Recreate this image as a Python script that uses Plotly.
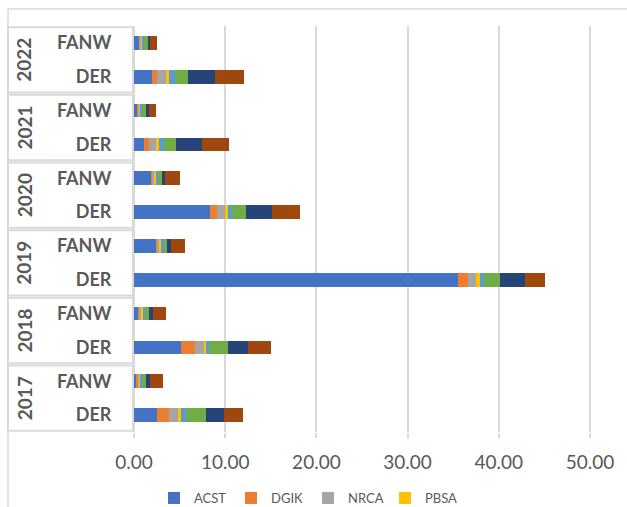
import plotly.graph_objects as go

# Category rows, listed bottom-to-top on the axis
years = ["2017", "2017", "2018", "2018", "2019", "2019",
         "2020", "2020", "2021", "2021", "2022", "2022"]
kinds = ["DER", "FANW", "DER", "FANW", "DER", "FANW",
         "DER", "FANW", "DER", "FANW", "DER", "FANW"]

series_names = ["ACST", "DGIK", "NRCA", "PBSA", "Series 5", "Series 6", "Series 7", "Series 8"]
series_colors = ["#4472C4", "#ED7D31", "#A5A5A5", "#FFC000",
                 "#5B9BD5", "#70AD47", "#264478", "#9E480E"]

acst     = [2.56, 0.22, 5.16, 0.44, 35.50, 2.45, 8.35, 1.87, 1.10, 0.37, 2.01, 0.55]
dgik     = [1.32, 0.22, 1.58, 0.18, 1.10, 0.18, 0.70, 0.18, 0.55, 0.15, 0.51, 0.10]
nrca     = [0.99, 0.11, 0.95, 0.11, 0.95, 0.11, 0.92, 0.11, 0.77, 0.07, 0.99, 0.15]
pbsa     = [0.29, 0.15, 0.22, 0.22, 0.37, 0.26, 0.29, 0.22, 0.37, 0.15, 0.37, 0.15]
series_5 = [0.51, 0.22, 0.29, 0.29, 0.44, 0.26, 0.48, 0.22, 0.55, 0.15, 0.59, 0.20]
series_6 = [2.23, 0.44, 2.09, 0.37, 1.72, 0.33, 1.54, 0.44, 1.28, 0.40, 1.43, 0.35]
series_7 = [1.94, 0.44, 2.23, 0.44, 2.75, 0.51, 2.82, 0.40, 2.89, 0.37, 2.93, 0.25]
series_8 = [2.09, 1.39, 2.45, 1.50, 2.20, 1.47, 3.11, 1.58, 2.93, 0.70, 3.22, 0.75]

all_series = [acst, dgik, nrca, pbsa, series_5, series_6, series_7, series_8]
legend_shown = ["ACST", "DGIK", "NRCA", "PBSA"]

x_ticks = [0, 10, 20, 30, 40, 50]

row_keys = [f"{y} {k}" for y, k in zip(years, kinds)]

TEXT = "#595959"
LINE = "#D9D9D9"
FONT = "Lato"

# layout geometry in pixels
W, H = 627, 507
ML, MR, MT, MB = 134, 0, 26, 75
plot_w = W - ML - MR
plot_h = H - MT - MB
px_per_unit = 9.12
x_max = plot_w / px_per_unit


def px_to_paper_x(px):
    return (px - ML) / plot_w


def px_to_paper_y(py):
    return (H - MB - py) / plot_h


fig = go.Figure()
for name, color, vals in zip(series_names, series_colors, all_series):
    fig.add_trace(go.Bar(
        y=row_keys, x=vals, name=name, orientation="h",
        marker=dict(color=color, line=dict(width=0)),
        showlegend=name in legend_shown,
    ))

# year group boxes at the left of the category axis
shapes = []
eps = 0.035
x_left = px_to_paper_x(8)
unique_years = []
for y in years:
    if y not in unique_years:
        unique_years.append(y)
annotations = []
for gi, yr in enumerate(unique_years):
    lo = 2 * gi - 0.5 + eps
    hi = 2 * gi + 1.5 - eps
    shapes.append(dict(type="rect", xref="paper", yref="y",
                       x0=x_left, x1=0, y0=lo, y1=hi,
                       line=dict(color=LINE, width=2), layer="below"))
    annotations.append(dict(
        x=px_to_paper_x(24), xref="paper", y=2 * gi + 0.5, yref="y",
        text=yr, textangle=-90, showarrow=False,
        font=dict(family=FONT, size=19, color=TEXT, weight="bold"),
        xanchor="center", yanchor="middle"))

# outer frame lines
top_paper = px_to_paper_y(9)
shapes.append(dict(type="line", xref="paper", yref="paper",
                   x0=x_left, x1=x_left, y0=px_to_paper_y(H), y1=top_paper,
                   line=dict(color=LINE, width=1.5)))
shapes.append(dict(type="line", xref="paper", yref="paper",
                   x0=x_left, x1=1.0, y0=top_paper, y1=top_paper,
                   line=dict(color=LINE, width=1.5)))

fig.update_layout(
    width=W, height=H,
    margin=dict(l=ML, r=MR, t=MT, b=MB, autoexpand=False),
    barmode="stack", bargap=0.6,
    plot_bgcolor="white", paper_bgcolor="white",
    font=dict(family=FONT, color=TEXT),
    shapes=shapes, annotations=annotations,
    xaxis=dict(
        range=[0, x_max], tickvals=x_ticks, tickformat=".2f",
        showgrid=True, gridcolor=LINE, gridwidth=1.5,
        zeroline=False, showline=False,
        ticks="outside", ticklen=5, tickcolor=LINE, tickwidth=1.5,
        ticklabelstandoff=8,
        tickfont=dict(family=FONT, size=19, color=TEXT),
    ),
    yaxis=dict(
        type="category", categoryorder="array", categoryarray=row_keys,
        tickvals=row_keys, ticktext=kinds,
        showgrid=False, zeroline=False,
        showline=True, linecolor=LINE, linewidth=2,
        ticks="", ticklabelstandoff=17,
        tickfont=dict(family=FONT, size=18, color=TEXT, weight="bold"),
    ),
    legend=dict(
        orientation="h", traceorder="normal",
        x=px_to_paper_x(154), xanchor="left",
        y=px_to_paper_y(498), yanchor="middle",
        entrywidth=32, entrywidthmode="pixels",
        font=dict(family=FONT, size=13, color=TEXT),
        bgcolor="rgba(0,0,0,0)",
    ),
)

fig.write_html("out.html")
